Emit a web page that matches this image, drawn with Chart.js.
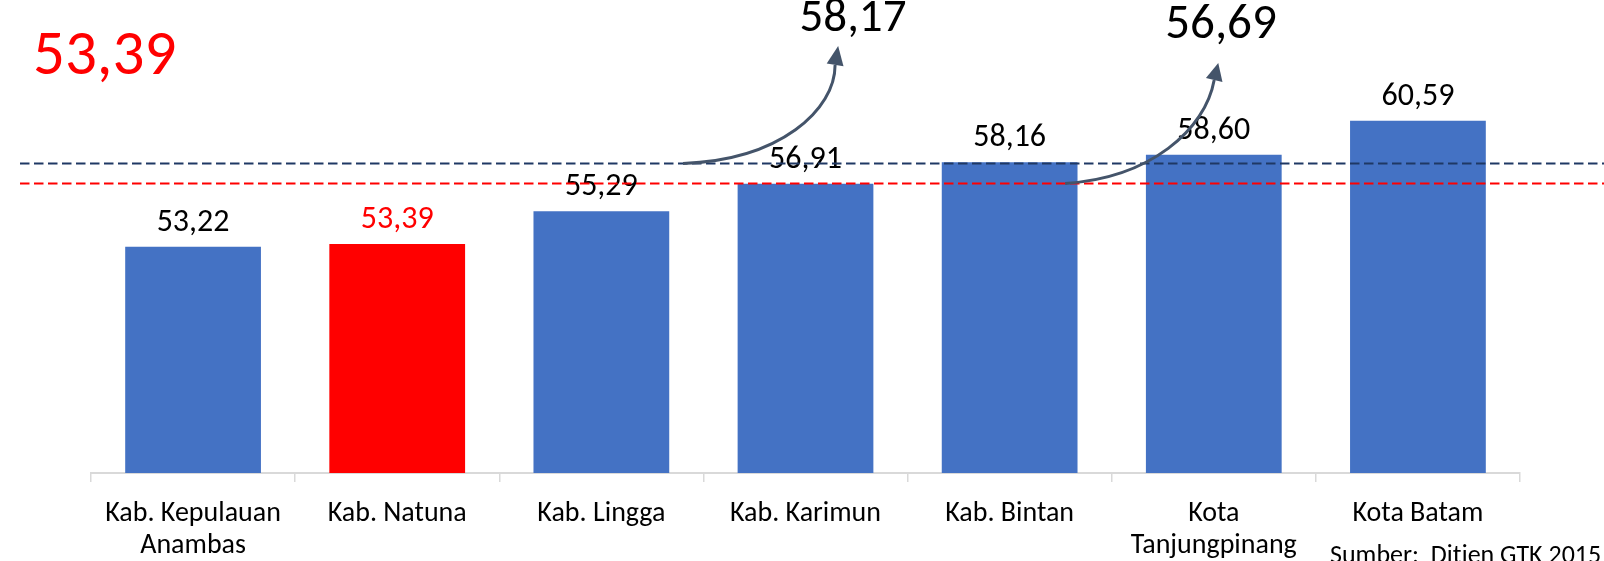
<!DOCTYPE html>
<html>
<head>
<meta charset="utf-8">
<script src="https://cdn.jsdelivr.net/npm/chart.js@4.4.0/dist/chart.umd.min.js"></script>
<style>
  html, body { margin: 0; padding: 0; background: #fff; }
  #wrap { width: 1604px; height: 561px; position: relative; }
</style>
</head>
<body>
<div id="wrap"><canvas id="c" width="1604" height="561"></canvas></div>
<script>
// ---- Data ----
const categories = [
  ['Kab. Kepulauan', 'Anambas'],
  'Kab. Natuna',
  'Kab. Lingga',
  'Kab. Karimun',
  'Kab. Bintan',
  ['Kota', 'Tanjungpinang'],
  'Kota Batam'
];
const values = [53.22, 53.39, 55.29, 56.91, 58.16, 58.60, 60.59];
const valueLabels = ['53,22', '53,39', '55,29', '56,91', '58,16', '58,60', '60,59'];
const highlightIndex = 1;               // Kab. Natuna
const highlightLabel = '53,39';
const refLevels = [58.09, 56.92];        // dashed reference lines as drawn
const refLabels = ['58,17', '56,69'];    // callout numbers for the lines
const sourceText = 'Sumber:  Ditjen GTK 2015';

// arrow paths in data coordinates [categoryIndex, value]
const arrowPaths = [
  [[2.40, 58.09], [2.876, 58.29], [3.145, 61.22], [3.145, 63.85], [3.16, 64.95]],
  [[4.272, 56.92], [4.689, 57.24], [4.958, 60.05], [5.002, 62.97], [5.022, 63.96]]
];

const BLUE = '#4472C4', RED = '#FF0000', NAVY = '#1F3864', ARROW = '#44546A';
const FONT = 'Carlito, Calibri, Lato, sans-serif';
const barColors = values.map((v, i) => i === highlightIndex ? RED : BLUE);

const overlay = {
  id: 'overlay',
  afterDatasetsDraw(chart) {
    const ctx = chart.ctx;
    const xs = chart.scales.x, ys = chart.scales.y;
    const meta = chart.getDatasetMeta(0);
    ctx.save();
    // value labels
    ctx.font = '32px ' + FONT;
    ctx.textAlign = 'center';
    ctx.textBaseline = 'alphabetic';
    meta.data.forEach((bar, i) => {
      ctx.fillStyle = i === highlightIndex ? RED : '#000';
      ctx.fillText(valueLabels[i], bar.x, bar.y - 16);
    });
    // dashed reference lines
    ctx.lineWidth = 2;
    ctx.setLineDash([9.5, 4.5]);
    [NAVY, RED].forEach((col, k) => {
      const y = ys.getPixelForValue(refLevels[k]);
      ctx.strokeStyle = col;
      ctx.beginPath();
      ctx.moveTo(20, y);
      ctx.lineTo(1604, y);
      ctx.stroke();
    });
    ctx.setLineDash([]);
    // curved arrows
    arrowPaths.forEach(p => {
      const pt = p.map(([i, v]) => [xs.getPixelForValue(i), ys.getPixelForValue(v)]);
      ctx.strokeStyle = ARROW;
      ctx.fillStyle = ARROW;
      ctx.lineWidth = 3;
      ctx.beginPath();
      ctx.moveTo(pt[0][0], pt[0][1]);
      ctx.bezierCurveTo(pt[1][0], pt[1][1], pt[2][0], pt[2][1], pt[3][0], pt[3][1]);
      ctx.stroke();
      const [bx, by] = pt[3], [tx, ty] = pt[4];
      const dx = tx - bx, dy = ty - by, L = Math.hypot(dx, dy);
      const nx = -dy / L * 8.5, ny = dx / L * 8.5;
      ctx.beginPath();
      ctx.moveTo(tx, ty);
      ctx.lineTo(bx + nx, by + ny);
      ctx.lineTo(bx - nx, by - ny);
      ctx.closePath();
      ctx.fill();
    });
    // callout numbers
    ctx.fillStyle = '#000';
    ctx.textAlign = 'center';
    ctx.font = '47px ' + FONT;
    ctx.fillText(refLabels[0], 853, 31);
    ctx.font = '49px ' + FONT;
    ctx.fillText(refLabels[1], 1221, 38);
    // highlighted big number
    ctx.fillStyle = RED;
    ctx.textAlign = 'left';
    ctx.font = '63px ' + FONT;
    ctx.fillText(highlightLabel, 33, 74);
    // source
    ctx.fillStyle = '#000';
    ctx.font = '26px ' + FONT;
    ctx.fillText(sourceText, 1330, 563);
    ctx.restore();
  }
};

new Chart(document.getElementById('c'), {
  type: 'bar',
  data: {
    labels: categories,
    datasets: [{
      data: values,
      backgroundColor: barColors,
      borderWidth: 0,
      categoryPercentage: 1.0,
      barPercentage: 0.665
    }]
  },
  options: {
    responsive: false,
    devicePixelRatio: 1,
    animation: false,
    events: [],
    layout: { padding: { left: 91, right: 84, top: 11, bottom: 0 } },
    plugins: { legend: { display: false }, tooltip: { enabled: false } },
    scales: {
      y: { display: false, min: 40, max: 67 },
      x: {
        afterFit(scale) { scale.height = 88; },
        border: { display: true, color: '#D9D9D9', width: 2 },
        grid: { display: true, drawOnChartArea: false, drawTicks: true, tickLength: 9, color: '#D9D9D9', lineWidth: 1.5, offset: true },
        ticks: { color: '#000', font: { family: FONT, size: 28, lineHeight: 1.15 }, padding: 16, maxRotation: 0, autoSkip: false }
      }
    }
  },
  plugins: [overlay]
});
</script>
</body>
</html>
